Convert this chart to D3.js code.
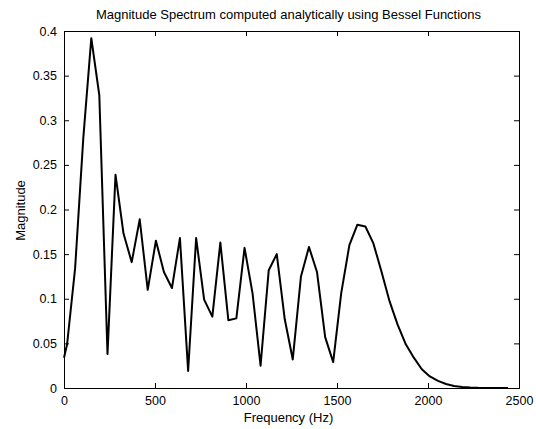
<!DOCTYPE html>
<html>
<head>
<meta charset="utf-8">
<script src="https://cdn.jsdelivr.net/npm/d3@7"></script>
<style>
  body { margin: 0; background: #fff; }
  svg text { font-family: "Liberation Sans", Arial, sans-serif; font-size: 13px; fill: #000; }
</style>
</head>
<body>
<svg width="536" height="429"></svg>
<script>
// frequencies of the spectral lines (Hz)
const freqs = [0, 17, 61, 106, 150, 194, 239, 283, 327, 372, 416, 460, 505, 549, 593, 637,
    682, 726, 770, 815, 859, 903, 947, 992, 1036, 1080, 1125, 1169, 1213, 1257, 1302, 1346,
    1390, 1435, 1479, 1523, 1568, 1612, 1656, 1700, 1745, 1789, 1833, 1878, 1922, 1966,
    2010, 2055, 2099, 2143, 2188, 2232, 2276, 2320, 2365, 2409, 2440];
// magnitude at each frequency
const mags = [0.034, 0.049, 0.134, 0.280, 0.392, 0.328, 0.038, 0.239, 0.173, 0.141, 0.189,
    0.110, 0.165, 0.130, 0.112, 0.168, 0.019, 0.168, 0.099, 0.080, 0.163, 0.076, 0.078,
    0.157, 0.106, 0.025, 0.132, 0.150, 0.077, 0.032, 0.125, 0.158, 0.130, 0.057, 0.029,
    0.106, 0.160, 0.183, 0.181, 0.162, 0.130, 0.097, 0.071, 0.049, 0.034, 0.021, 0.013,
    0.008, 0.0045, 0.0022, 0.0012, 0.0005, 0.0002, 0.0001, 0, 0, 0];
const xTicks = [0, 500, 1000, 1500, 2000, 2500];
const yTicks = [0, 0.05, 0.1, 0.15, 0.2, 0.25, 0.3, 0.35, 0.4];

const margin = { top: 31, right: 17, bottom: 41, left: 64 },
    width = 536 - margin.left - margin.right,
    height = 429 - margin.top - margin.bottom;

const x = d3.scaleLinear().domain([0, 2500]).range([0, width]);
const y = d3.scaleLinear().domain([0, 0.4]).range([height, 0]);

const svg = d3.select("svg");
const g = svg.append("g")
    .attr("transform", "translate(" + margin.left + "," + margin.top + ")");

// the spectrum
const data = freqs.map((f, i) => ({ f: f, m: mags[i] }));
g.append("path")
    .datum(data)
    .attr("fill", "none")
    .attr("stroke", "#000")
    .attr("stroke-width", 2)
    .attr("stroke-linejoin", "round")
    .attr("d", d3.line().x(d => x(d.f)).y(d => y(d.m)));

// axes, ticks pointing inwards, MATLAB style box
const fmt = d => d3.format("")(+d.toFixed(2));
g.append("g")
    .attr("transform", "translate(0," + height + ")")
    .call(d3.axisBottom(x).tickValues(xTicks).tickSize(-5).tickPadding(8).tickFormat(fmt));
g.append("g")
    .call(d3.axisLeft(y).tickValues(yTicks).tickSize(-5).tickPadding(7).tickFormat(fmt));
g.append("g")
    .call(d3.axisTop(x).tickValues(xTicks).tickSize(-5).tickFormat(""));
g.append("g")
    .attr("transform", "translate(" + width + ",0)")
    .call(d3.axisRight(y).tickValues(yTicks).tickSize(-5).tickFormat(""));

g.selectAll(".domain").attr("stroke", "#000").attr("stroke-width", 1);
g.selectAll(".tick line").attr("stroke", "#000");
g.selectAll(".tick text").style("font-size", "12.5px").style("font-family", "'Liberation Sans', Arial, sans-serif");

// labels
svg.append("text")
    .attr("x", margin.left + width / 2 - 3)
    .attr("y", 19)
    .attr("text-anchor", "middle")
    .text("Magnitude Spectrum computed analytically using Bessel Functions");

svg.append("text")
    .attr("x", margin.left + width / 2 - 3)
    .attr("y", 422)
    .attr("text-anchor", "middle")
    .text("Frequency (Hz)");

svg.append("text")
    .attr("transform", "translate(25," + (margin.top + height / 2 + 1) + ") rotate(-90)")
    .attr("text-anchor", "middle")
    .text("Magnitude");
</script>
</body>
</html>
